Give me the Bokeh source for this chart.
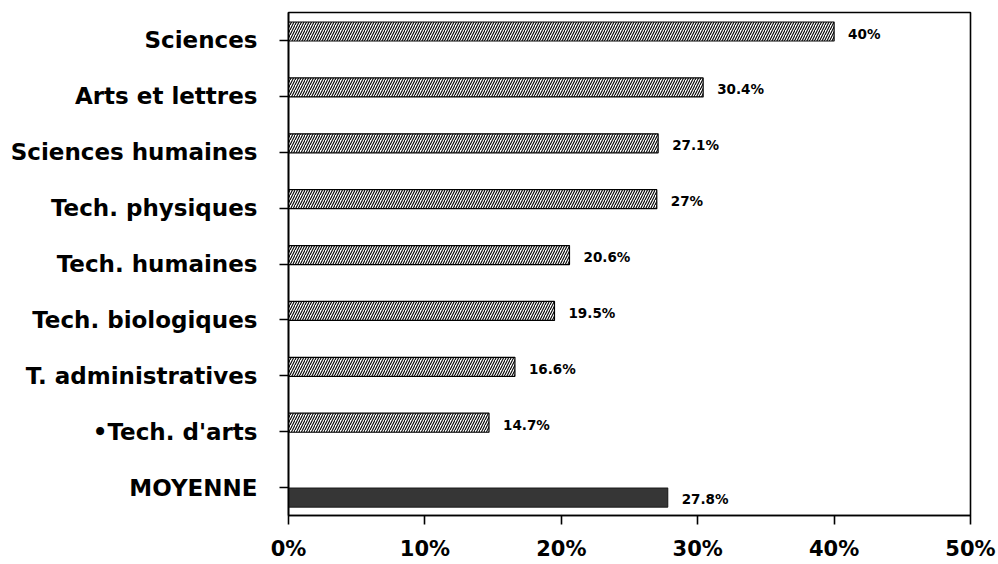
from bokeh.plotting import figure
from bokeh.models import FactorRange, Range1d, FixedTicker, ColumnDataSource
from bokeh.transform import dodge
from bokeh.core.properties import value
from bokeh.embed import file_html
from bokeh.resources import INLINE

# Share of students per programme (percent)
programmes = [
    "Sciences",
    "Arts et lettres",
    "Sciences humaines",
    "Tech. physiques",
    "Tech. humaines",
    "Tech. biologiques",
    "T. administratives",
    "\u2022Tech. d'arts",
]
shares = [40.0, 30.4, 27.1, 27.0, 20.6, 19.5, 16.6, 14.7]

average_label = "MOYENNE"
average_value = 27.8

x_ticks = [0, 10, 20, 30, 40, 50]
x_tick_labels = ["0%", "10%", "20%", "30%", "40%", "50%"]

FONT = "DejaVu Sans"

# bottom-to-top factor order for the categorical axis
factors = [average_label] + programmes[::-1]

p = figure(
    y_range=FactorRange(factors=factors),
    x_range=Range1d(0, 50),
    frame_width=682,
    frame_height=503,
    min_border_left=288,
    min_border_right=28,
    min_border_top=12,
    min_border_bottom=10,
    output_backend="svg",
    toolbar_location=None,
    background_fill_color="white",
    border_fill_color="white",
)

src = ColumnDataSource(dict(
    cat=programmes,
    val=shares,
    lbl=[f"{v:g}%" for v in shares],
))
avg_src = ColumnDataSource(dict(
    cat=[average_label],
    val=[average_value],
    lbl=[f"{average_value:g}%"],
))

# hatched programme bars sit just above their tick
up = dodge("cat", 0.16, range=p.y_range)
p.hbar(y=up, left=0, right="val", height=0.34, source=src,
       fill_color="white", line_color="black", line_width=1.2,
       hatch_pattern="/", hatch_color="black", hatch_scale=5,
       hatch_weight=1.1)
p.text(x="val", y=up, text="lbl", source=src, x_offset=14, y_offset=2,
       text_font=value(FONT), text_font_style="bold", text_font_size="13.5px",
       text_baseline="middle", text_align="left", text_color="black")

# solid average bar sits just below its tick
down = dodge("cat", -0.18, range=p.y_range)
p.hbar(y=down, left=0, right="val", height=0.34, source=avg_src,
       fill_color="#363636", line_color="#222222", line_width=1.2)
p.text(x="val", y=down, text="lbl", source=avg_src, x_offset=14, y_offset=1,
       text_font=value(FONT), text_font_style="bold", text_font_size="13.5px",
       text_baseline="middle", text_align="left", text_color="black")

# frame and axes
p.outline_line_color = "black"
p.outline_line_width = 1.6
p.xgrid.grid_line_color = None
p.ygrid.grid_line_color = None

xa = p.xaxis[0]
xa.ticker = FixedTicker(ticks=x_ticks)
xa.major_label_overrides = {t: s for t, s in zip(x_ticks, x_tick_labels)}
xa.major_tick_in = 0
xa.major_tick_out = 9
xa.minor_tick_line_color = None
xa.axis_line_width = 1.6
xa.major_tick_line_width = 1.6
xa.major_label_standoff = 12
xa.major_label_text_font = FONT
xa.major_label_text_font_style = "bold"
xa.major_label_text_font_size = "21px"
xa.major_label_text_color = "black"

ya = p.yaxis[0]
ya.major_tick_in = 0
ya.major_tick_out = 9
ya.axis_line_width = 1.6
ya.major_tick_line_width = 1.4
ya.major_label_standoff = 22
ya.major_label_text_font = FONT
ya.major_label_text_font_style = "bold"
ya.major_label_text_font_size = "23px"
ya.major_label_text_color = "black"

open("out.html", "w").write(file_html(p, INLINE))
